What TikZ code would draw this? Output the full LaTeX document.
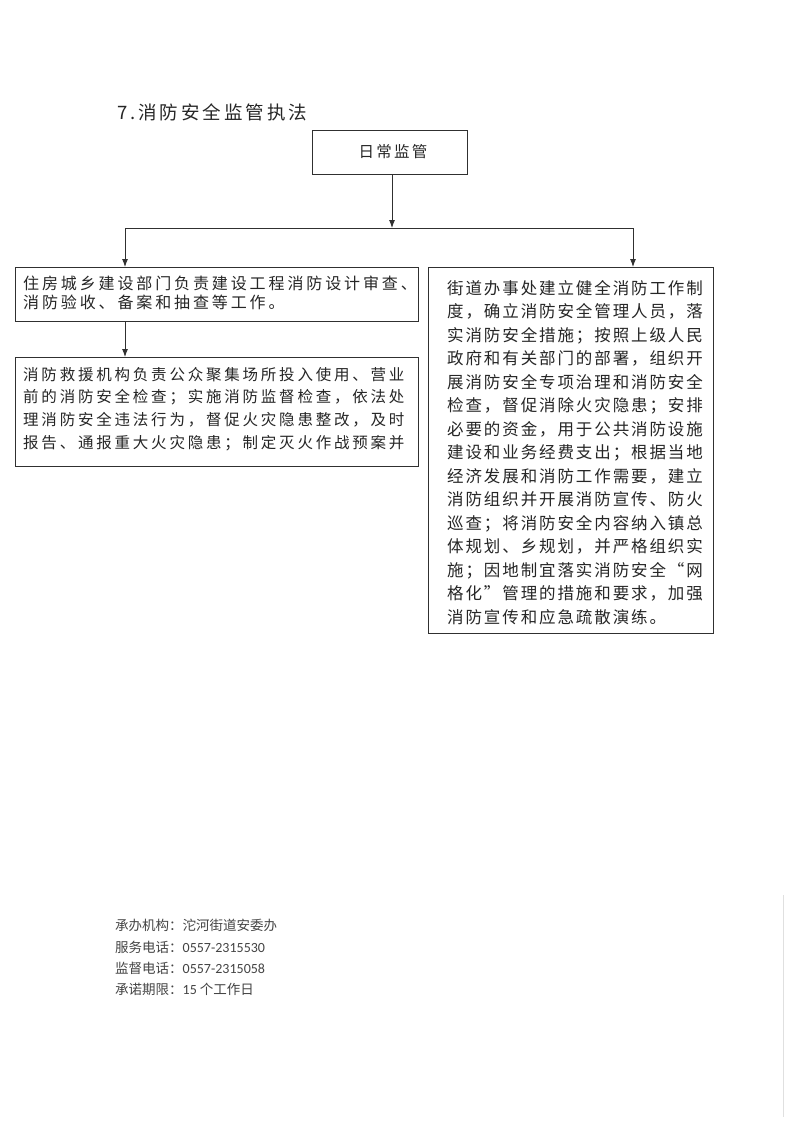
\documentclass[tikz,border=0pt]{standalone}
\usepackage{fontspec}
\usetikzlibrary{arrows.meta}
\newfontfamily\cjktitle[LetterSpace=16]{Noto Sans CJK SC}
\newfontfamily\cjktop[LetterSpace=14]{Noto Sans CJK SC}
\newfontfamily\cjkleft[LetterSpace=18]{Noto Sans CJK SC}
\newfontfamily\cjkright[LetterSpace=11.5]{Noto Sans CJK SC}
\newfontfamily\cjkfoot{Noto Sans CJK SC}
\newfontfamily\carl{Carlito}
\newcommand\digits[1]{{\carl\fontsize{14}{16}\selectfont #1}}
\definecolor{ink}{HTML}{262626}
\definecolor{linec}{HTML}{303030}
\definecolor{footc}{HTML}{444444}
\tikzset{
  box/.style={draw=linec, line width=1pt, inner sep=0pt, anchor=north west},
  conn/.style={draw=linec, line width=0.9pt},
  arr/.style={conn, -{Latex[length=8pt,width=6pt]}},
  txt/.style={inner sep=0pt, align=left, anchor=west, text=ink},
  foot/.style={inner sep=0pt, anchor=west, text=footc, font=\fontsize{13.5}{16}\cjkfoot},
}
\begin{document}
\begin{tikzpicture}[x=1pt,y=-1pt]
\useasboundingbox[fill=white] (0,0) rectangle (793,1121);
% title
\node[txt, font=\fontsize{18.5}{22}\cjktitle] (title) at (117,112) {7.消防安全监管执法};
% top box
\node[box, minimum width=155pt, minimum height=44pt] (top) at (312,130) {};
\node[txt, anchor=center, font=\fontsize{15.5}{18}\cjktop] (toptxt) at (393,152) {日常监管};
% left boxes
\node[box, minimum width=403pt, minimum height=54pt] (l1) at (15,267) {};
\node[txt, font=\fontsize{16}{19}\cjkleft] (l1txt) at (23,292.5) {住房城乡建设部门负责建设工程消防设计审查、\\消防验收、备案和抽查等工作。};
\node[box, minimum width=403pt, minimum height=109pt] (l2) at (15,357) {};
\node[txt, font=\fontsize{15.5}{22.7}\cjkleft] (l2txt) at (23,409) {消防救援机构负责公众聚集场所投入使用、营业\\前的消防安全检查；实施消防监督检查，依法处\\理消防安全违法行为，督促火灾隐患整改，及时\\报告、通报重大火灾隐患；制定灭火作战预案并};
% right box
\node[box, minimum width=285pt, minimum height=366pt] (r) at (428,267) {};
\node[txt, font=\fontsize{16.5}{23.5}\cjkright] (rtxt) at (447,452.5) {街道办事处建立健全消防工作制\\度，确立消防安全管理人员，落\\实消防安全措施；按照上级人民\\政府和有关部门的部署，组织开\\展消防安全专项治理和消防安全\\检查，督促消除火灾隐患；安排\\必要的资金，用于公共消防设施\\建设和业务经费支出；根据当地\\经济发展和消防工作需要，建立\\消防组织并开展消防宣传、防火\\巡查；将消防安全内容纳入镇总\\体规划、乡规划，并严格组织实\\施；因地制宜落实消防安全“网\\格化”管理的措施和要求，加强\\消防宣传和应急疏散演练。};
% connectors
\coordinate (j) at (392,228);
\coordinate (lc) at (125,228);
\coordinate (rc) at (633,228);
\draw[arr] (top.south -| j) -- (j);
\draw[conn] (lc) -- (rc);
\draw[arr] (lc) -- (lc |- l1.north);
\draw[arr] (rc) -- (rc |- r.north);
\draw[arr] (l1.south -| lc) -- (l2.north -| lc);
% footer
\node[foot] (f1) at (115,925) {承办机构：沱河街道安委办};
\node[foot] (f2) at (115,947) {服务电话：\digits{0557-2315530}};
\node[foot] (f3) at (115,968) {监督电话：\digits{0557-2315058}};
\node[foot] (f4) at (115,989) {承诺期限：\digits{15} 个工作日};
% faint scan edge
\draw[draw=black!12, line width=0.6pt] (783,895) -- (783,1117);
\end{tikzpicture}
\end{document}
